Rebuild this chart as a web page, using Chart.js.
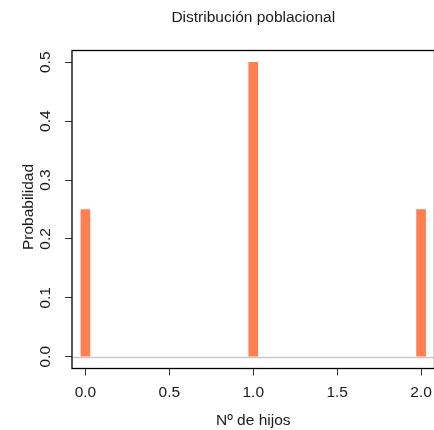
<!DOCTYPE html>
<html>
<head>
<meta charset="utf-8">
<script src="https://cdn.jsdelivr.net/npm/chart.js@4"></script>
<style>
  html, body { margin: 0; padding: 0; overflow: hidden; background: #fff; }
  #wrap { width: 440px; height: 430px; }
</style>
</head>
<body>
<div id="wrap"><canvas id="chart" width="440" height="430"></canvas></div>
<script>
// Data
const hijos = [0, 1, 2];
const probabilidad = [0.25, 0.5, 0.25];
const xTicks = [0, 0.5, 1, 1.5, 2];
const yTicks = [0, 0.1, 0.2, 0.3, 0.4, 0.5];

const FONT = "'Liberation Sans', Arial, Helvetica, sans-serif";
const FS = 15.5;

// Box, titles and rotated y labels (R style)
const rDecor = {
  id: "rDecor",
  beforeDatasetsDraw(chart) {
    const { ctx, chartArea, scales } = chart;
    const y0 = Math.round(scales.y.getPixelForValue(0)) + 0.5;
    ctx.save();
    ctx.strokeStyle = "#c8c8c8";
    ctx.lineWidth = 1.5;
    ctx.beginPath();
    ctx.moveTo(chartArea.left, y0);
    ctx.lineTo(chartArea.right, y0);
    ctx.stroke();
    ctx.restore();
  },
  afterDraw(chart) {
    const { ctx, chartArea, scales } = chart;
    ctx.save();
    ctx.strokeStyle = "#000";
    ctx.lineWidth = 1.3;
    ctx.strokeRect(chartArea.left, chartArea.top, chartArea.right - chartArea.left, chartArea.bottom - chartArea.top);

    ctx.fillStyle = "#1a1a1a";
    ctx.font = FS + "px " + FONT;
    ctx.textAlign = "center";
    ctx.textBaseline = "alphabetic";
    const cx = (chartArea.left + chartArea.right) / 2;
    ctx.fillText("Distribución poblacional", cx, 22);
    ctx.fillText("Nº de hijos", cx, 425);

    // y tick labels, rotated like R
    yTicks.forEach(v => {
      const py = scales.y.getPixelForValue(v);
      ctx.save();
      ctx.translate(50, py);
      ctx.rotate(-Math.PI / 2);
      ctx.fillText(v.toFixed(1), 0, 0);
      ctx.restore();
    });

    ctx.save();
    ctx.translate(33, 207);
    ctx.rotate(-Math.PI / 2);
    ctx.fillText("Probabilidad", 0, 0);
    ctx.restore();
    ctx.restore();
  }
};

new Chart(document.getElementById("chart"), {
  type: "bar",
  data: {
    datasets: [{
      data: hijos.map((x, i) => ({ x: x, y: probabilidad[i] })),
      backgroundColor: "#FF7F50",
      borderWidth: 0,
      barThickness: 9
    }]
  },
  options: {
    responsive: false,
    animation: false,
    layout: { padding: { top: 50.5, right: 4, left: 0, bottom: 0 } },
    plugins: {
      legend: { display: false },
      tooltip: { enabled: false }
    },
    scales: {
      x: {
        type: "linear",
        min: -0.08,
        max: 2.08,
        offset: false,
        afterBuildTicks: s => { s.ticks = xTicks.map(v => ({ value: v })); },
        afterFit: s => { s.height = 61.5; },
        ticks: {
          autoSkip: false,
          maxRotation: 0,
          color: "#1a1a1a",
          font: { family: FONT, size: FS },
          padding: 8,
          callback: v => Number(v).toFixed(1)
        },
        grid: { offset: false, drawOnChartArea: false, tickLength: 7, tickColor: "#333", color: "#333" },
        border: { display: false }
      },
      y: {
        min: -0.02,
        max: 0.52,
        afterBuildTicks: s => { s.ticks = yTicks.map(v => ({ value: v })); },
        afterFit: s => { s.width = 72; },
        ticks: { display: false },
        grid: { drawOnChartArea: false, tickLength: 7, tickColor: "#333", color: "#333" },
        border: { display: false }
      }
    }
  },
  plugins: [rDecor]
});
</script>
</body>
</html>
